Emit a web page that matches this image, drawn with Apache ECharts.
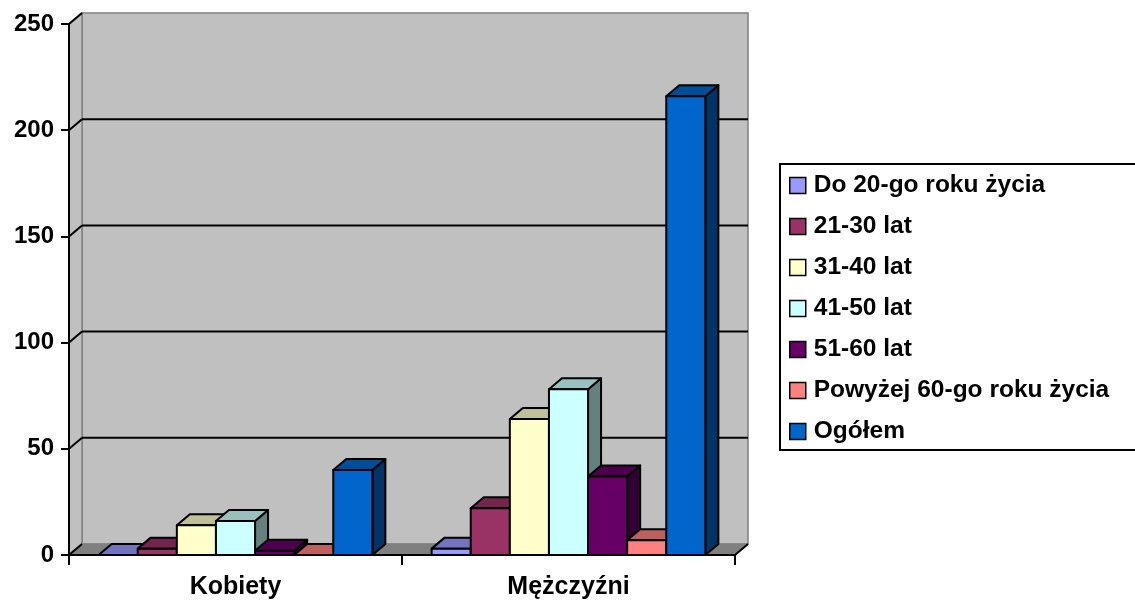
<!DOCTYPE html>
<html><head><meta charset="utf-8">
<script src="https://cdn.jsdelivr.net/npm/echarts@6/dist/echarts.min.js"></script>
<style>html,body{margin:0;padding:0;background:#fff}#c{width:1135px;height:603px}</style>
</head><body><div id="c"></div><script>
const categories = ['Kobiety', 'Mężczyźni'];
const seriesNames = ['Do 20-go roku życia', '21-30 lat', '31-40 lat', '41-50 lat', '51-60 lat', 'Powyżej 60-go roku życia', 'Ogółem'];
const do20 = [0, 3];
const lat21_30 = [3, 22];
const lat31_40 = [14, 64];
const lat41_50 = [16, 78];
const lat51_60 = [2, 37];
const powyzej60 = [0, 7];
const ogolem = [40, 216];
const yTicks = [0, 50, 100, 150, 200, 250];
const colors = ['#9999FF', '#993366', '#FFFFCC', '#CCFFFF', '#660066', '#FF8080', '#0066CC'];

const allValues = [do20, lat21_30, lat31_40, lat41_50, lat51_60, powyzej60, ogolem];
const FONT = 'Arial, "Liberation Sans", sans-serif';
const DX = 13, DY = -11;
const GROUP_FRAC = 0.822;

function shade(hex, f) {
  const n = parseInt(hex.slice(1), 16);
  const r = Math.round(((n >> 16) & 255) * f), g = Math.round(((n >> 8) & 255) * f), b = Math.round((n & 255) * f);
  return 'rgb(' + r + ',' + g + ',' + b + ')';
}

const chart = echarts.init(document.getElementById('c'), null, {renderer: 'canvas'});

const decoSeries = {
  type: 'custom',
  silent: true,
  z: 1,
  data: [[0, 0]],
  encode: {x: 0, y: 1},
  renderItem: function (params, api) {
    const cs = params.coordSys;
    const L = cs.x, T = cs.y, W = cs.width, H = cs.height, B = T + H, R = L + W;
    const ch = [];
    ch.push({type: 'rect', shape: {x: L + DX, y: T + DY, width: W, height: H},
      style: {fill: '#c0c0c0', stroke: '#808080', lineWidth: 1.5}});
    ch.push({type: 'polygon', shape: {points: [[L, T], [L + DX, T + DY], [L + DX, B + DY], [L, B]]},
      style: {fill: '#c0c0c0', stroke: '#808080', lineWidth: 1.5}});
    ch.push({type: 'polygon', shape: {points: [[L, B], [L + DX, B + DY], [R + DX, B + DY], [R, B]]},
      style: {fill: '#808080', stroke: '#808080', lineWidth: 1}});
    yTicks.forEach(function (t, k) {
      const y = api.coord([0, t])[1];
      if (k > 0 && k < yTicks.length - 1) {
        ch.push({type: 'line', shape: {x1: L + DX, y1: y + DY, x2: R + DX, y2: y + DY},
          style: {stroke: '#000', lineWidth: 2}});
      }
      ch.push({type: 'line', shape: {x1: L, y1: y, x2: L + DX, y2: y + DY},
        style: {stroke: '#000', lineWidth: 2}});
    });
    ch.push({type: 'line', shape: {x1: R, y1: B, x2: R + DX, y2: B + DY},
      style: {stroke: '#000', lineWidth: 2}});
    return {type: 'group', children: ch};
  }
};

const barSeries = allValues.map(function (vals, i) {
  const col = colors[i];
  const topCol = shade(col, 0.75);
  const sideCol = shade(col, 0.5);
  return {
    type: 'custom',
    name: seriesNames[i],
    z: 5,
    itemStyle: {color: col},
    data: vals.map(function (v, c) { return [c, v]; }),
    encode: {x: 0, y: 1},
    renderItem: function (params, api) {
      const c = api.value(0), v = api.value(1);
      const base = api.coord([c, 0]);
      const top = api.coord([c, v]);
      const band = api.size([1, 0])[0];
      const gw = band * GROUP_FRAC;
      const bw = gw / 7;
      const x0 = base[0] - gw / 2 + i * bw, x1 = x0 + bw;
      const ty = top[1], by = base[1];
      const st = {stroke: '#000', lineWidth: 2, lineJoin: 'round'};
      return {type: 'group', children: [
        {type: 'polygon', shape: {points: [[x1, ty], [x1 + DX, ty + DY], [x1 + DX, by + DY], [x1, by]]},
          style: Object.assign({fill: sideCol}, st)},
        {type: 'polygon', shape: {points: [[x0, ty], [x0 + DX, ty + DY], [x1 + DX, ty + DY], [x1, ty]]},
          style: Object.assign({fill: topCol}, st)},
        {type: 'rect', shape: {x: x0, y: ty, width: bw, height: by - ty},
          style: Object.assign({fill: col}, st)}
      ]};
    }
  };
});

chart.setOption({
  animation: false,
  backgroundColor: '#fff',
  grid: {left: 69, right: 400, top: 24, bottom: 48, containLabel: false},
  xAxis: {
    type: 'category', data: categories, z: 10,
    boundaryGap: true,
    axisLine: {lineStyle: {color: '#000', width: 2}},
    axisTick: {show: true, length: 10, lineStyle: {color: '#000', width: 2}},
    axisLabel: {fontSize: 25, fontWeight: 'bold', color: '#000', fontFamily: FONT, margin: 20},
    splitLine: {show: false}
  },
  yAxis: {
    type: 'value', min: 0, max: 250, interval: 50, z: 10,
    axisLine: {show: true, lineStyle: {color: '#000', width: 2}},
    axisTick: {show: true, length: 8, lineStyle: {color: '#000', width: 2}},
    axisLabel: {fontSize: 24, fontWeight: 'bold', color: '#000', fontFamily: FONT, margin: 15},
    splitLine: {show: false}
  },
  legend: {
    orient: 'vertical', left: 780, top: 164,
    borderColor: '#000', borderWidth: 2,
    padding: [9, 60, 6, 9],
    itemGap: 16, itemWidth: 16, itemHeight: 16,
    icon: 'rect',
    itemStyle: {borderColor: '#000', borderWidth: 1.5},
    textStyle: {fontSize: 24.5, fontWeight: 'bold', color: '#000', fontFamily: FONT, padding: [0, 0, 0, 3]},
    data: seriesNames.map(function (n, i) {
      return {name: n, icon: 'rect', itemStyle: {color: colors[i], borderColor: '#000', borderWidth: 1.5}};
    })
  },
  series: [decoSeries].concat(barSeries)
});
</script></body></html>
